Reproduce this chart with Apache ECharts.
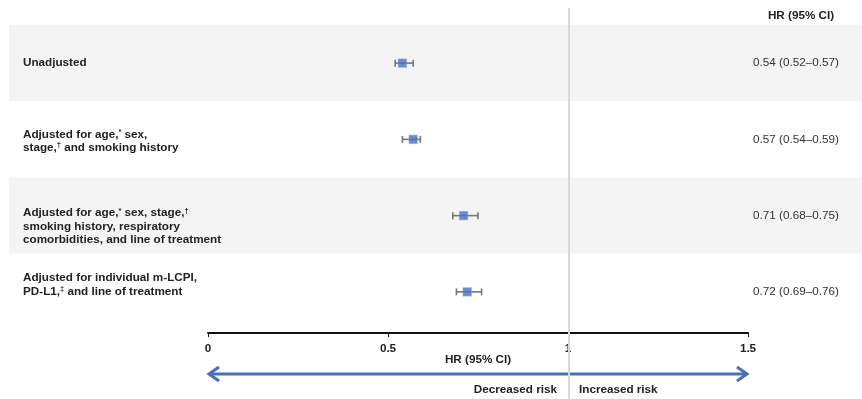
<!DOCTYPE html>
<html>
<head>
<meta charset="utf-8">
<script src="https://cdn.jsdelivr.net/npm/echarts@6/dist/echarts.min.js"></script>
<style>
  html, body { margin: 0; padding: 0; background: #fff; }
  #chart { width: 862px; height: 399px; }
</style>
</head>
<body>
<div id="chart"></div>
<script>
// Model rows (top to bottom), with rich-text superscript footnote marks
const categories = [
  'Unadjusted',
  'Adjusted for age,{s|*} sex,\nstage,{s|†} and smoking history',
  'Adjusted for age,{s|*} sex, stage,{s|†}\nsmoking history, respiratory\ncomorbidities, and line of treatment',
  'Adjusted for individual m-LCPI,\nPD-L1,{s|‡} and line of treatment'
];
// Hazard ratios and 95% confidence limits
const hr = [0.54, 0.57, 0.71, 0.72];
const ciLow = [0.52, 0.54, 0.68, 0.69];
const ciHigh = [0.57, 0.59, 0.75, 0.76];
// x-axis ticks
const xTicks = [0, 0.5, 1, 1.5];

const hrLabels = hr.map((v, i) =>
  v.toFixed(2) + ' (' + ciLow[i].toFixed(2) + '–' + ciHigh[i].toFixed(2) + ')');

const FONT = '"Liberation Sans", Arial, Helvetica, sans-serif';
const FS = 11.7;
const rowIdx = categories.map((_, i) => i);

// vertical nudge of each row label block (px, + = down), done with spacer lines
const labelNudge = [0, 2, 11, -7];
function nudgeLabel(text, idx) {
  const n = labelNudge[idx] || 0;
  if (n > 0) return '{sp' + (2 * n) + '|\u00a0}\n' + text;
  if (n < 0) return text + '\n{sp' + (-2 * n) + '|\u00a0}';
  return text;
}
const richStyles = {
  s: { fontFamily: FONT, fontSize: 7.5, fontWeight: 'bold', color: '#222',
       lineHeight: 13.4, verticalAlign: 'top' }
};
labelNudge.forEach(n => {
  const h = Math.abs(2 * n);
  if (h) richStyles['sp' + h] = { fontSize: 1, lineHeight: h, height: h };
});

const chart = echarts.init(document.getElementById('chart'), null, { renderer: 'canvas' });

const option = {
  animation: false,
  backgroundColor: '#ffffff',
  textStyle: { fontFamily: FONT },
  title: {
    text: 'HR (95% CI)',
    left: 796,
    top: 5,
    textAlign: 'center',
    textStyle: { fontFamily: FONT, fontSize: FS, fontWeight: 'bold', color: '#222' }
  },
  grid: [
    // full-width row bands + labels
    { left: 9, right: 0, top: 25, bottom: 69 },
    // forest plot area
    { left: 208, right: 114, top: 25, bottom: 69 },
    // tall area for the reference line at HR = 1
    { left: 208, right: 113, top: 8, bottom: 0 }
  ],
  xAxis: [
    { gridIndex: 0, type: 'value', min: 0, max: 1, show: false },
    {
      gridIndex: 1, type: 'value', min: xTicks[0], max: xTicks[xTicks.length - 1],
      interval: 0.5, position: 'bottom', offset: 3,
      axisLine: { show: true, lineStyle: { color: '#111', width: 2 } },
      axisTick: { show: true, length: 4, lineStyle: { color: '#111', width: 1 } },
      splitLine: { show: false },
      axisLabel: {
        margin: 10, fontFamily: FONT, fontSize: FS, fontWeight: 'bold', color: '#222',
        formatter: v => (xTicks.indexOf(v) >= 0 ? String(v) : '')
      },
      name: 'HR (95% CI)', nameLocation: 'middle', nameGap: 21,
      nameMoveOverlap: false,
      nameTextStyle: { fontFamily: FONT, fontSize: FS, fontWeight: 'bold', color: '#222' }
    },
    { gridIndex: 2, type: 'value', min: xTicks[0], max: xTicks[xTicks.length - 1], show: false }
  ],
  yAxis: [
    {
      gridIndex: 0, type: 'category', data: categories, inverse: true,
      axisLine: { show: false }, axisTick: { show: false },
      splitArea: { show: true, interval: 0, areaStyle: { color: ['#f4f4f4', '#ffffff'] } },
      axisLabel: {
        inside: true, margin: 14, interval: 0,
        fontFamily: FONT, fontSize: FS, fontWeight: 'bold', color: '#222', lineHeight: 13.4,
        formatter: nudgeLabel,
        rich: richStyles
      }
    },
    {
      gridIndex: 0, type: 'category', data: hrLabels, inverse: true,
      position: 'right', offset: -66,
      axisLine: { show: false }, axisTick: { show: false }, splitLine: { show: false },
      axisLabel: {
        margin: 0, align: 'center', interval: 0,
        fontFamily: FONT, fontSize: FS, color: '#333'
      }
    },
    { gridIndex: 1, type: 'category', data: rowIdx, inverse: true, show: false },
    { gridIndex: 2, type: 'value', min: 0, max: 1, show: false }
  ],
  series: [
    // reference line at HR = 1
    {
      type: 'line', xAxisIndex: 2, yAxisIndex: 3, data: [],
      silent: true,
      markLine: {
        silent: true, symbol: ['none', 'none'], label: { show: false },
        lineStyle: { color: '#d8d8d8', width: 2, type: 'solid' },
        data: [{ xAxis: 1 }]
      }
    },
    // confidence intervals
    {
      type: 'custom', xAxisIndex: 1, yAxisIndex: 2,
      data: rowIdx.map(i => [ciLow[i], ciHigh[i], i]),
      encode: { x: [0, 1], y: 2 },
      renderItem: function (params, api) {
        const a = api.coord([api.value(0), api.value(2)]);
        const b = api.coord([api.value(1), api.value(2)]);
        const h = 3.5;
        const style = { stroke: '#767676', lineWidth: 1.6, fill: null };
        return {
          type: 'group',
          children: [
            { type: 'line', shape: { x1: a[0], y1: a[1], x2: b[0], y2: b[1] }, style },
            { type: 'line', shape: { x1: a[0], y1: a[1] - h, x2: a[0], y2: a[1] + h }, style },
            { type: 'line', shape: { x1: b[0], y1: b[1] - h, x2: b[0], y2: b[1] + h }, style }
          ]
        };
      },
      z: 3
    },
    // point estimates
    {
      type: 'scatter', xAxisIndex: 1, yAxisIndex: 2,
      data: rowIdx.map(i => [hr[i], i]),
      symbol: 'rect', symbolSize: 8.5,
      itemStyle: { color: '#4670c0', borderColor: '#8fa9dc', borderWidth: 0.6 },
      z: 4
    },
    // direction arrow and captions under the axis
    {
      type: 'custom', xAxisIndex: 1, yAxisIndex: 2, clip: false, silent: true,
      data: [[xTicks[0], xTicks[xTicks.length - 1], 1]],
      encode: { x: [0, 1, 2] },
      renderItem: function (params, api) {
        const cs = params.coordSys;
        const yBase = cs.y + cs.height;
        const xl = api.coord([api.value(0), 0])[0];
        const xr = api.coord([api.value(1), 0])[0];
        const xm = api.coord([api.value(2), 0])[0];
        const ay = yBase + 44;
        const hw = 10, hh = 7;
        const lineStyle = { stroke: '#4a6fb5', lineWidth: 3, fill: null, lineCap: 'butt', lineJoin: 'miter' };
        const txt = { fontFamily: FONT, fontSize: FS, fontWeight: 'bold', fill: '#222', verticalAlign: 'middle' };
        return {
          type: 'group',
          children: [
            { type: 'line', shape: { x1: xl + 1, y1: ay, x2: xr - 1, y2: ay }, style: lineStyle },
            { type: 'polyline', shape: { points: [[xl + hw + 1, ay - hh], [xl + 1, ay], [xl + hw + 1, ay + hh]] }, style: lineStyle },
            { type: 'polyline', shape: { points: [[xr - hw - 1, ay - hh], [xr - 1, ay], [xr - hw - 1, ay + hh]] }, style: lineStyle },
            { type: 'text', style: Object.assign({ text: 'Decreased risk', x: xm - 11, y: ay + 16, align: 'right' }, txt) },
            { type: 'text', style: Object.assign({ text: 'Increased risk', x: xm + 11, y: ay + 16, align: 'left' }, txt) }
          ]
        };
      },
      z: 3
    }
  ]
};

chart.setOption(option);
</script>
</body>
</html>
